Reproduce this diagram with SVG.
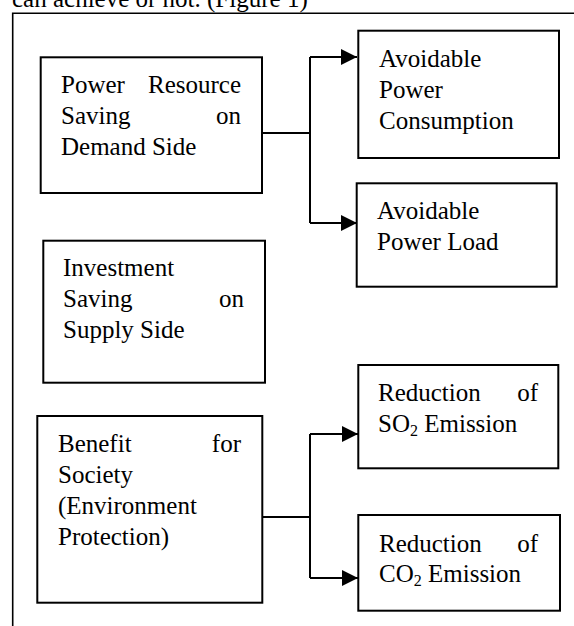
<svg xmlns="http://www.w3.org/2000/svg" width="574" height="626" viewBox="0 0 574 626">
<style>
text{font-family:"Liberation Serif","Times New Roman",serif;font-size:25px;fill:#000}
.box{fill:#fff;stroke:#000;stroke-width:2}
.conn{fill:none;stroke:#000;stroke-width:2}
.frame{fill:none;stroke:#000;stroke-width:1.6}
.sub{font-size:16px}
.r{text-anchor:end}
</style>
<defs>
<marker id="arr" markerUnits="userSpaceOnUse" markerWidth="17" markerHeight="16" refX="16" refY="8" orient="auto">
<path d="M0,0 L16,8 L0,16 Z" fill="#000"/>
</marker>
</defs>
<text x="12" y="7">can achieve or not. (Figure 1)</text>
<path class="frame" d="M12.7,626 V13.3 H574"/>
<g id="connectors">
<path class="conn" d="M262,133 H310"/>
<path class="conn" d="M310,57 V223"/>
<path class="conn" d="M310,57 H357" marker-end="url(#arr)"/>
<path class="conn" d="M310,223 H357" marker-end="url(#arr)"/>
<path class="conn" d="M262,517 H310"/>
<path class="conn" d="M310,434 V578"/>
<path class="conn" d="M310,434 H358" marker-end="url(#arr)"/>
<path class="conn" d="M310,578 H358" marker-end="url(#arr)"/>
</g>
<g id="power-resource">
<rect class="box" x="40.7" y="57.3" width="221.3" height="135.7"/>
<text x="61" y="93">Power</text><text class="r" x="241" y="93">Resource</text>
<text x="61" y="124">Saving</text><text class="r" x="241" y="124">on</text>
<text x="61" y="155">Demand Side</text>
</g>
<g id="avoidable-consumption">
<rect class="box" x="358.3" y="30.7" width="200.7" height="127.3"/>
<text x="379" y="67">Avoidable</text>
<text x="379" y="98">Power</text>
<text x="379" y="129">Consumption</text>
</g>
<g id="avoidable-load">
<rect class="box" x="356.7" y="183.3" width="200" height="103.4"/>
<text x="377" y="219">Avoidable</text>
<text x="377" y="250">Power Load</text>
</g>
<g id="investment">
<rect class="box" x="43.3" y="240.7" width="221.7" height="142"/>
<text x="63" y="276">Investment</text>
<text x="63" y="307">Saving</text><text class="r" x="244" y="307">on</text>
<text x="63" y="338">Supply Side</text>
</g>
<g id="benefit">
<rect class="box" x="37.3" y="416" width="225" height="186.7"/>
<text x="58" y="452">Benefit</text><text class="r" x="241" y="452">for</text>
<text x="58" y="483">Society</text>
<text x="58" y="514">(Environment</text>
<text x="58" y="545">Protection)</text>
</g>
<g id="so2">
<rect class="box" x="358.3" y="365" width="200" height="103.3"/>
<text x="378" y="401">Reduction</text><text class="r" x="538" y="401">of</text>
<text x="378" y="432">SO<tspan class="sub" dy="4">2</tspan><tspan dy="-4"> Emission</tspan></text>
</g>
<g id="co2">
<rect class="box" x="358.3" y="515" width="201.7" height="95.7"/>
<text x="379" y="552">Reduction</text><text class="r" x="538" y="552">of</text>
<text x="379" y="582">CO<tspan class="sub" dy="4">2</tspan><tspan dy="-4"> Emission</tspan></text>
</g>
</svg>
